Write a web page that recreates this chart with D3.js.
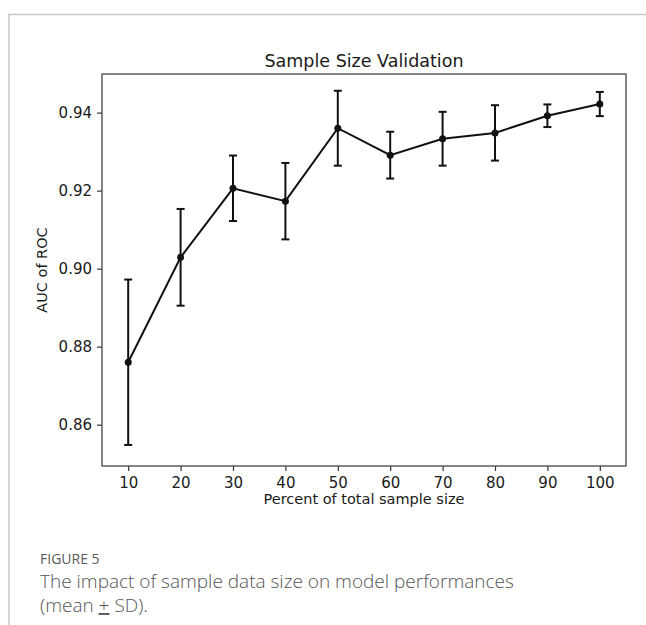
<!DOCTYPE html>
<html>
<head>
<meta charset="utf-8">
<script src="https://cdn.jsdelivr.net/npm/d3@7"></script>
<style>
  body { margin: 0; background: #fff; }
  svg { display: block; }
</style>
</head>
<body>
<div id="chart"></div>
<script>
// values
const percents = [10, 20, 30, 40, 50, 60, 70, 80, 90, 100];
const aucMean = [0.876, 0.9029, 0.9206, 0.9173, 0.9360, 0.9291, 0.9333, 0.9348, 0.9392, 0.9422];
const aucSd = [0.0212, 0.0124, 0.0084, 0.0098, 0.0096, 0.0060, 0.0069, 0.0071, 0.0029, 0.0031];
const xTicks = [10, 20, 30, 40, 50, 60, 70, 80, 90, 100];
const yTicks = [0.86, 0.88, 0.90, 0.92, 0.94];

const W = 646, H = 625;
const plot = { left: 102, top: 74, right: 626, bottom: 466 };

const svg = d3.select("#chart").append("svg")
    .attr("width", W)
    .attr("height", H);

// page frame (journal layout)
svg.append("line")
    .attr("x1", 8).attr("x2", W).attr("y1", 14.5).attr("y2", 14.5)
    .attr("stroke", "#c8c8c8").attr("stroke-width", 1.5);
svg.append("line")
    .attr("x1", 9).attr("x2", 9).attr("y1", 14).attr("y2", 625)
    .attr("stroke", "#c8c8c8").attr("stroke-width", 1.5);

const x = d3.scaleLinear().domain([5, 105]).range([plot.left, plot.right]);
const y = d3.scaleLinear().domain([0.8494, 0.9499]).range([plot.bottom, plot.top]);

const data = percents.map((p, i) => ({ p, m: aucMean[i], sd: aucSd[i] }));

const axisFont = "'DejaVu Sans', sans-serif";

// axes
const xAxis = svg.append("g")
    .attr("transform", `translate(0,${plot.bottom})`)
    .call(d3.axisBottom(x).tickValues(xTicks).tickSize(5).tickPadding(6).tickFormat(d3.format("d")));
const yAxis = svg.append("g")
    .attr("transform", `translate(${plot.left},0)`)
    .call(d3.axisLeft(y).tickValues(yTicks).tickSize(5).tickPadding(5).tickFormat(d3.format(".2f")));

[xAxis, yAxis].forEach(g => {
    g.select(".domain").remove();
    g.selectAll(".tick line").attr("stroke", "#333").attr("stroke-width", 1.2);
    g.selectAll(".tick text")
        .attr("fill", "#1a1a1a")
        .style("font-family", axisFont)
        .style("font-size", "15px");
});

// frame
svg.append("rect")
    .attr("x", plot.left).attr("y", plot.top)
    .attr("width", plot.right - plot.left)
    .attr("height", plot.bottom - plot.top)
    .attr("fill", "none")
    .attr("stroke", "#444")
    .attr("stroke-width", 1.3);

// line
svg.append("path")
    .datum(data)
    .attr("fill", "none")
    .attr("stroke", "#111")
    .attr("stroke-width", 2)
    .attr("d", d3.line().x(d => x(d.p)).y(d => y(d.m)));

// error bars
const eb = svg.append("g").attr("stroke", "#111").attr("stroke-width", 2);
eb.selectAll("line.v").data(data).enter().append("line")
    .attr("class", "v")
    .attr("x1", d => x(d.p)).attr("x2", d => x(d.p))
    .attr("y1", d => y(d.m - d.sd)).attr("y2", d => y(d.m + d.sd));
eb.selectAll("line.top").data(data).enter().append("line")
    .attr("class", "top")
    .attr("x1", d => x(d.p) - 4).attr("x2", d => x(d.p) + 4)
    .attr("y1", d => y(d.m + d.sd)).attr("y2", d => y(d.m + d.sd));
eb.selectAll("line.bot").data(data).enter().append("line")
    .attr("class", "bot")
    .attr("x1", d => x(d.p) - 4).attr("x2", d => x(d.p) + 4)
    .attr("y1", d => y(d.m - d.sd)).attr("y2", d => y(d.m - d.sd));

// markers
svg.selectAll("circle").data(data).enter().append("circle")
    .attr("cx", d => x(d.p)).attr("cy", d => y(d.m))
    .attr("r", 3.5)
    .attr("fill", "#111");

// titles
svg.append("text")
    .attr("x", (plot.left + plot.right) / 2).attr("y", 67)
    .attr("text-anchor", "middle")
    .style("font-family", axisFont).style("font-size", "17.5px")
    .attr("fill", "#1a1a1a")
    .text("Sample Size Validation");

svg.append("text")
    .attr("x", (plot.left + plot.right) / 2).attr("y", 504)
    .attr("text-anchor", "middle")
    .style("font-family", axisFont).style("font-size", "14.5px")
    .attr("fill", "#1a1a1a")
    .text("Percent of total sample size");

svg.append("text")
    .attr("transform", `translate(47,${(plot.top + plot.bottom) / 2}) rotate(-90)`)
    .attr("text-anchor", "middle")
    .style("font-family", axisFont).style("font-size", "14.5px")
    .attr("fill", "#1a1a1a")
    .text("AUC of ROC");

// caption
const capFont = "'Open Sans', 'Noto Sans', sans-serif";
svg.append("text")
    .attr("x", 40).attr("y", 564)
    .style("font-family", capFont).style("font-size", "14px").style("font-weight", 500)
    .attr("fill", "#5a5a5a")
    .text("FIGURE 5");
svg.append("text")
    .attr("x", 40).attr("y", 588)
    .style("font-family", capFont).style("font-size", "19px").style("font-weight", 300)
    .attr("fill", "#555")
    .text("The impact of sample data size on model performances");
const cap2 = svg.append("text")
    .attr("x", 40).attr("y", 612)
    .style("font-family", capFont).style("font-size", "19px").style("font-weight", 300)
    .attr("fill", "#555");
cap2.append("tspan").text("(mean ");
cap2.append("tspan").attr("text-decoration", "underline").text("+");
cap2.append("tspan").text(" SD).");
</script>
</body>
</html>
